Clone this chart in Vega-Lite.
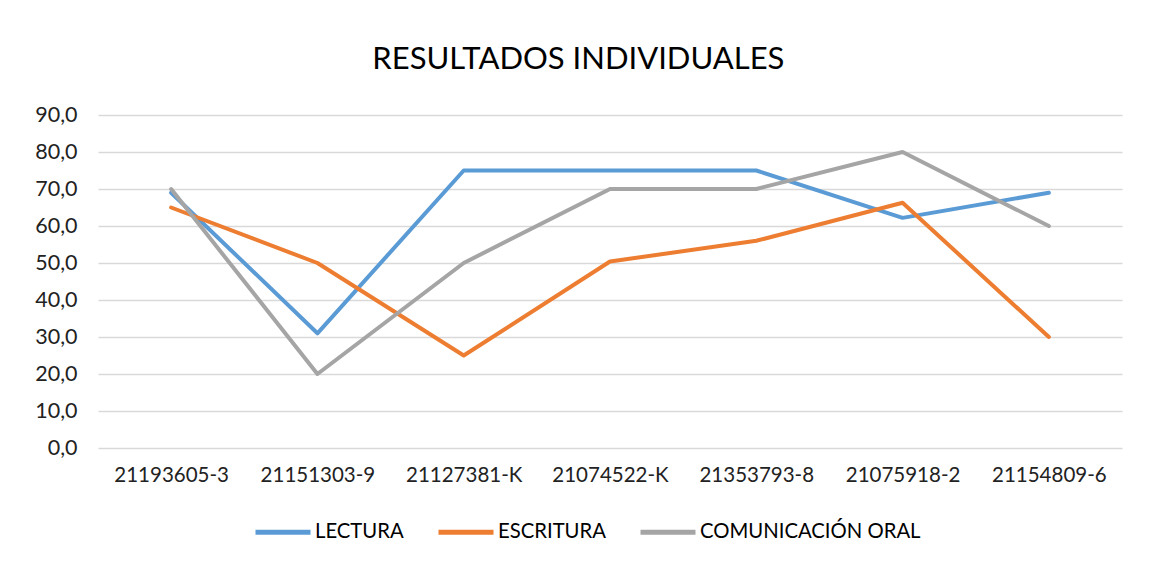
{
  "$schema": "https://vega.github.io/schema/vega-lite/v6.json",
  "width": 1024,
  "height": 333,
  "autosize": {"type": "none"},
  "padding": {"left": 98, "top": 115, "right": 33, "bottom": 128},
  "background": "white",
  "title": {
    "text": "RESULTADOS INDIVIDUALES",
    "font": "Lato",
    "fontSize": 31,
    "fontWeight": "normal",
    "color": "#000000",
    "anchor": "middle",
    "frame": "bounds",
    "offset": 28
  },
  "data": {
    "values": [
      {"id": "21193605-3", "serie": "LECTURA", "valor": 69},
      {"id": "21151303-9", "serie": "LECTURA", "valor": 31},
      {"id": "21127381-K", "serie": "LECTURA", "valor": 75},
      {"id": "21074522-K", "serie": "LECTURA", "valor": 75},
      {"id": "21353793-8", "serie": "LECTURA", "valor": 75},
      {"id": "21075918-2", "serie": "LECTURA", "valor": 62.2},
      {"id": "21154809-6", "serie": "LECTURA", "valor": 69},
      {"id": "21193605-3", "serie": "ESCRITURA", "valor": 65},
      {"id": "21151303-9", "serie": "ESCRITURA", "valor": 50},
      {"id": "21127381-K", "serie": "ESCRITURA", "valor": 25},
      {"id": "21074522-K", "serie": "ESCRITURA", "valor": 50.4},
      {"id": "21353793-8", "serie": "ESCRITURA", "valor": 56},
      {"id": "21075918-2", "serie": "ESCRITURA", "valor": 66.3},
      {"id": "21154809-6", "serie": "ESCRITURA", "valor": 30},
      {"id": "21193605-3", "serie": "COMUNICACIÓN ORAL", "valor": 70},
      {"id": "21151303-9", "serie": "COMUNICACIÓN ORAL", "valor": 20},
      {"id": "21127381-K", "serie": "COMUNICACIÓN ORAL", "valor": 50},
      {"id": "21074522-K", "serie": "COMUNICACIÓN ORAL", "valor": 70},
      {"id": "21353793-8", "serie": "COMUNICACIÓN ORAL", "valor": 70},
      {"id": "21075918-2", "serie": "COMUNICACIÓN ORAL", "valor": 80},
      {"id": "21154809-6", "serie": "COMUNICACIÓN ORAL", "valor": 60}
    ]
  },
  "mark": {"type": "line", "strokeWidth": 4, "strokeCap": "round", "strokeJoin": "round"},
  "encoding": {
    "x": {
      "field": "id",
      "type": "nominal",
      "sort": null,
      "scale": {"type": "point", "padding": 0.5},
      "axis": {
        "title": null,
        "labelAngle": 0,
        "ticks": false,
        "domain": false,
        "grid": false,
        "labelFont": "Lato",
        "labelFontSize": 20.5,
        "labelColor": "#222222",
        "labelPadding": 17
      }
    },
    "y": {
      "field": "valor",
      "type": "quantitative",
      "scale": {"domain": [0, 90], "nice": false},
      "axis": {
        "title": null,
        "values": [0, 10, 20, 30, 40, 50, 60, 70, 80, 90],
        "labelExpr": "replace(format(datum.value, '.1f'), '.', ',')",
        "ticks": false,
        "domain": false,
        "grid": true,
        "gridColor": "#D9D9D9",
        "gridWidth": 1.5,
        "labelFont": "Lato",
        "labelFontSize": 21.5,
        "labelColor": "#222222",
        "labelPadding": 21
      }
    },
    "color": {
      "field": "serie",
      "type": "nominal",
      "scale": {
        "domain": ["LECTURA", "ESCRITURA", "COMUNICACIÓN ORAL"],
        "range": ["#5B9BD5", "#ED7D31", "#A5A5A5"]
      },
      "legend": {
        "title": null,
        "orient": "none",
        "direction": "horizontal",
        "legendX": 155,
        "legendY": 387,
        "symbolType": "stroke",
        "symbolSize": 3025,
        "symbolStrokeWidth": 5,
        "labelFont": "Lato",
        "labelFontSize": 20.3,
        "labelLimit": 0,
        "labelColor": "#000000",
        "labelOffset": 2,
        "columnPadding": 24
      }
    }
  },
  "config": {"view": {"stroke": null}}
}
